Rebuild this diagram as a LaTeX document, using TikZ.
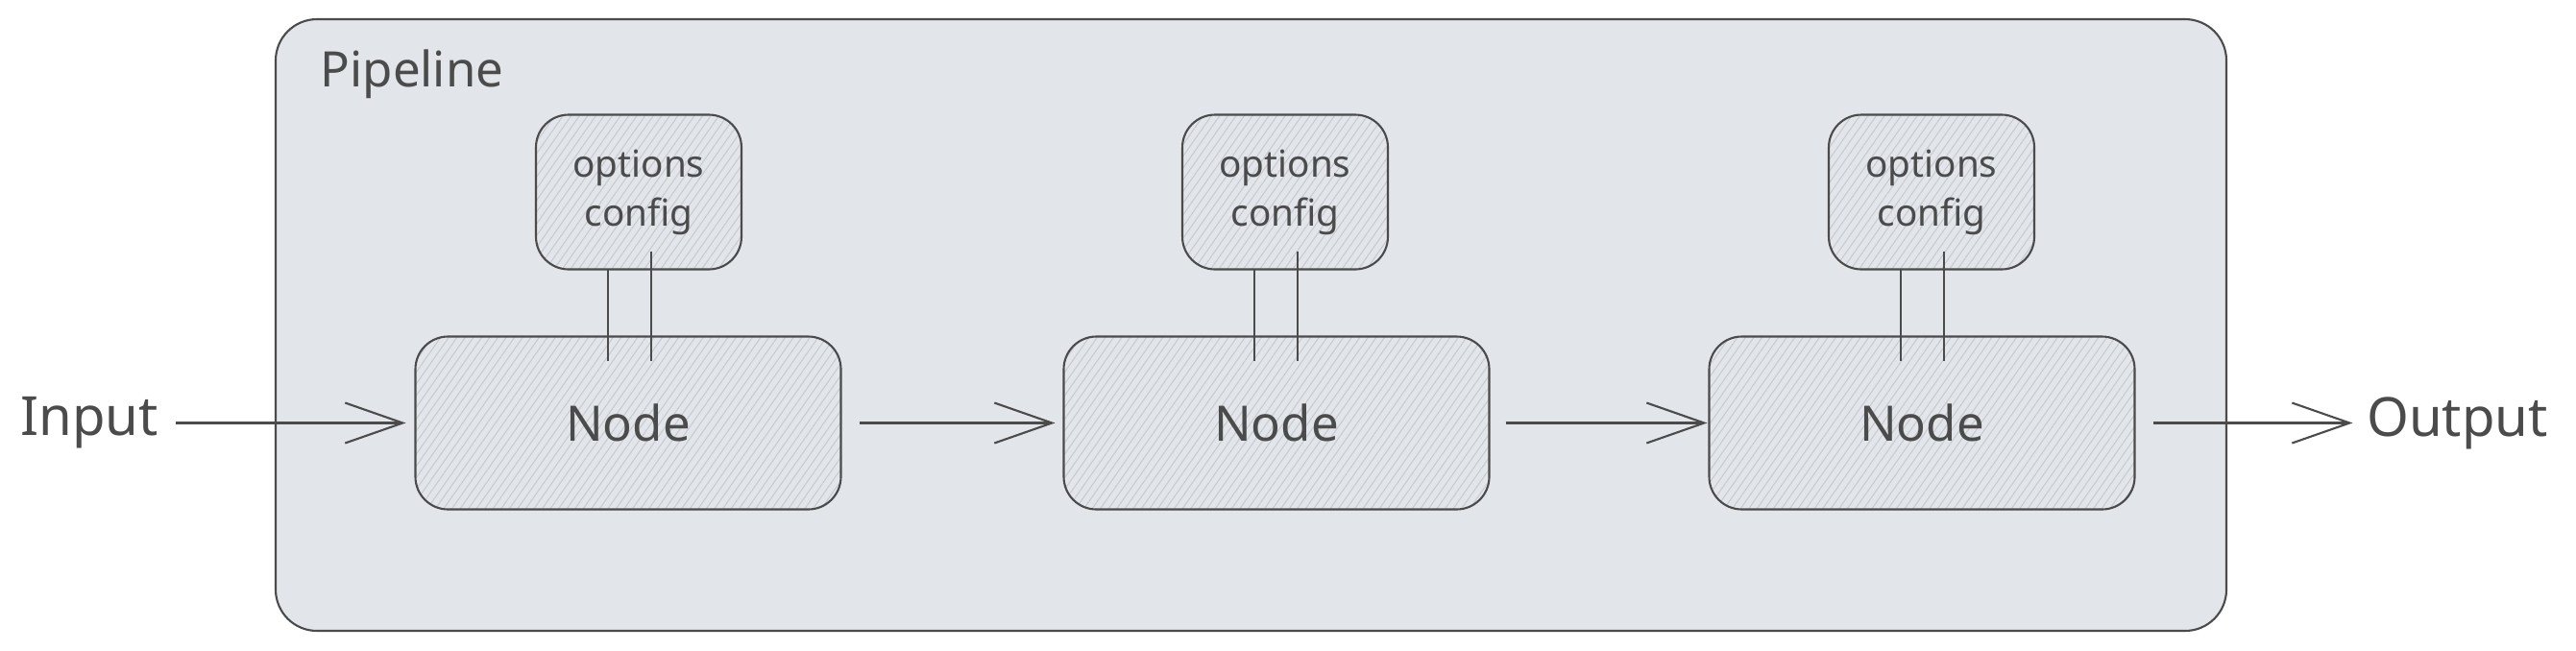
\documentclass[tikz,border=0pt]{standalone}
\usepackage{fontspec}
\setmainfont{Noto Sans}
\usetikzlibrary{arrows.meta,positioning,patterns.meta}
\definecolor{inkColor}{HTML}{4B4B4B}
\definecolor{pipeColor}{HTML}{E2E5E9}
\definecolor{hatchColor}{HTML}{C7CBD1}
\tikzset{
	hatched/.style={draw=inkColor, line width=0.6pt, outer sep=0,
		preaction={fill=pipeColor},
		preaction={pattern={Lines[angle=55,distance=0.7mm,line width=0.3pt]}, pattern color=hatchColor}},
	stage/.style={hatched, rounded corners=3.4mm, minimum width=4.43cm, minimum height=1.8cm,
		text=inkColor, font=\fontsize{14.5}{17}\selectfont},
	opts/.style={hatched, rounded corners=3.4mm, minimum width=2.14cm, minimum height=1.61cm,
		text=inkColor, align=center, font=\fontsize{11}{14.5}\selectfont},
	lab/.style={inner sep=0, text=inkColor, font=\fontsize{16}{19}\selectfont},
	flow/.style={draw=inkColor, line width=0.6pt, -{Straight Barb[length=6mm,width=4.2mm]}},
	link/.style={draw=inkColor, line width=0.6pt}
}

\begin{document}
\begin{tikzpicture}
	\useasboundingbox (0,0) rectangle (26.82,6.77);
	% pipeline frame
	\node[draw=inkColor, line width=0.6pt, fill=pipeColor, rounded corners=4.3mm,
		minimum width=20.31cm, minimum height=6.37cm, outer sep=0] (pipe) at (13.025, 3.385) {};
	\node[lab, anchor=west, font=\fontsize{14.5}{17}\selectfont] (title) at (3.33, 6.0) {Pipeline};
	
	\node[stage] (n1) at (6.54, 2.365) {Node};
	\node[stage] (n2) at (13.29, 2.365) {Node};
	\node[stage] (n3) at (20.01, 2.365) {Node};
	
	\node[opts] (o1) at (6.65, 4.77) {options\\config};
	\node[opts] (o2) at (13.38, 4.77) {options\\config};
	\node[opts] (o3) at (20.11, 4.77) {options\\config};
	
	\node[lab, left=2.67cm of n1] (inp) {Input};
	\node[lab, right=2.41cm of n3] (outp) {Output};
	
	\foreach \i in {1,2,3}{
		\draw[link, shorten >=-2.5mm] ([xshift=-3.2mm]o\i.south) -- ([xshift=-3.2mm]o\i.south |- n\i.north);
		\draw[link, shorten <=-1.9mm, shorten >=-2.5mm] ([xshift=1.3mm]o\i.south) -- ([xshift=1.3mm]o\i.south |- n\i.north);
	}
	
	\draw[flow, shorten <=1.7mm, shorten >=1mm] (inp.east) -- (n1.west);
	\draw[flow, shorten <=1.9mm, shorten >=0.9mm] (n1.east) -- (n2.west);
	\draw[flow, shorten <=1.7mm, shorten >=0.2mm] (n2.east) -- (n3.west);
	\draw[flow, shorten <=1.9mm, shorten >=1.4mm] (n3.east) -- (outp.west);
\end{tikzpicture}
\end{document}
